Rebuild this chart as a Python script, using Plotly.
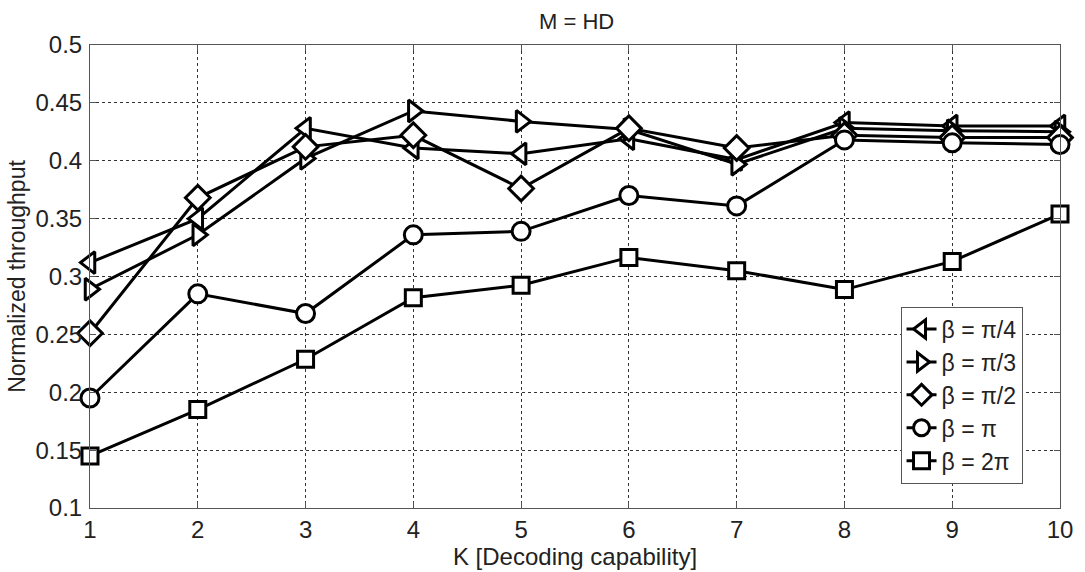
import plotly.graph_objects as go

# Decoding capability K
k_values = [1, 2, 3, 4, 5, 6, 7, 8, 9, 10]

# Normalized throughput for each beta
beta_pi_4 = [0.312, 0.350, 0.428, 0.411, 0.406, 0.419, 0.401, 0.433, 0.430, 0.430]
beta_pi_3 = [0.289, 0.336, 0.402, 0.443, 0.434, 0.427, 0.397, 0.428, 0.426, 0.425]
beta_pi_2 = [0.251, 0.368, 0.412, 0.422, 0.376, 0.428, 0.411, 0.422, 0.420, 0.420]
beta_pi = [0.195, 0.285, 0.268, 0.336, 0.339, 0.370, 0.361, 0.418, 0.4155, 0.414]
beta_2pi = [0.145, 0.185, 0.2285, 0.2816, 0.2925, 0.3165, 0.305, 0.2887, 0.313, 0.354]

series_names = ["β = π/4", "β = π/3", "β = π/2", "β = π", "β = 2π"]
series_values = [beta_pi_4, beta_pi_3, beta_pi_2, beta_pi, beta_2pi]
series_symbols = ["triangle-left", "triangle-right", "diamond", "circle", "square"]
series_sizes = [19, 19, 19, 18, 16]

y_tick_vals = [0.1, 0.15, 0.2, 0.25, 0.3, 0.35, 0.4, 0.45, 0.5]
y_tick_text = ["0.1", "0.15", "0.2", "0.25", "0.3", "0.35", "0.4", "0.45", "0.5"]

FONT = "Liberation Sans, Arial, sans-serif"

fig = go.Figure()
for i, (name, vals, sym, sz) in enumerate(zip(series_names, series_values, series_symbols, series_sizes)):
    fig.add_trace(go.Scatter(
        x=k_values, y=vals, name=name, mode="lines+markers",
        legendgroup=f"g{i}", cliponaxis=False,
        line=dict(color="black", width=3),
        marker=dict(symbol=sym, size=sz, color="white",
                    line=dict(color="black", width=3)),
    ))

axis_common = dict(
    showline=True, linecolor="#555555", linewidth=1, mirror="ticks",
    ticks="inside", ticklen=6, tickcolor="#555555",
    showgrid=True, gridcolor="#333333", griddash="dot", gridwidth=1,
    zeroline=False,
    tickfont=dict(family=FONT, size=24, color="#222222"),
)

fig.update_layout(
    width=1085, height=572,
    margin=dict(l=90, r=22, t=44.5, b=62.7),
    paper_bgcolor="white", plot_bgcolor="white",
    title=dict(text="M = HD", x=0.5315, xanchor="center", y=0.963, yanchor="middle",
               font=dict(family=FONT, size=22, color="#222222")),
    xaxis=dict(range=[1, 10], tickvals=k_values, ticklabelstandoff=0,
               title=dict(text="K [Decoding capability]", standoff=0,
                          font=dict(family=FONT, size=24, color="#222222")),
               **axis_common),
    yaxis=dict(range=[0.1, 0.5], tickvals=y_tick_vals, ticktext=y_tick_text,
               ticklabelstandoff=2,
               title=dict(text="Normalized throughput", standoff=3,
                          font=dict(family=FONT, size=23, color="#222222")),
               **axis_common),
    legend=dict(x=0.8356, y=0.435, xanchor="left", yanchor="top",
                bgcolor="white", bordercolor="#555555", borderwidth=1,
                font=dict(family=FONT, size=23, color="#222222"),
                tracegroupgap=0, itemwidth=30),
    showlegend=True,
)

fig.write_html("out.html")
